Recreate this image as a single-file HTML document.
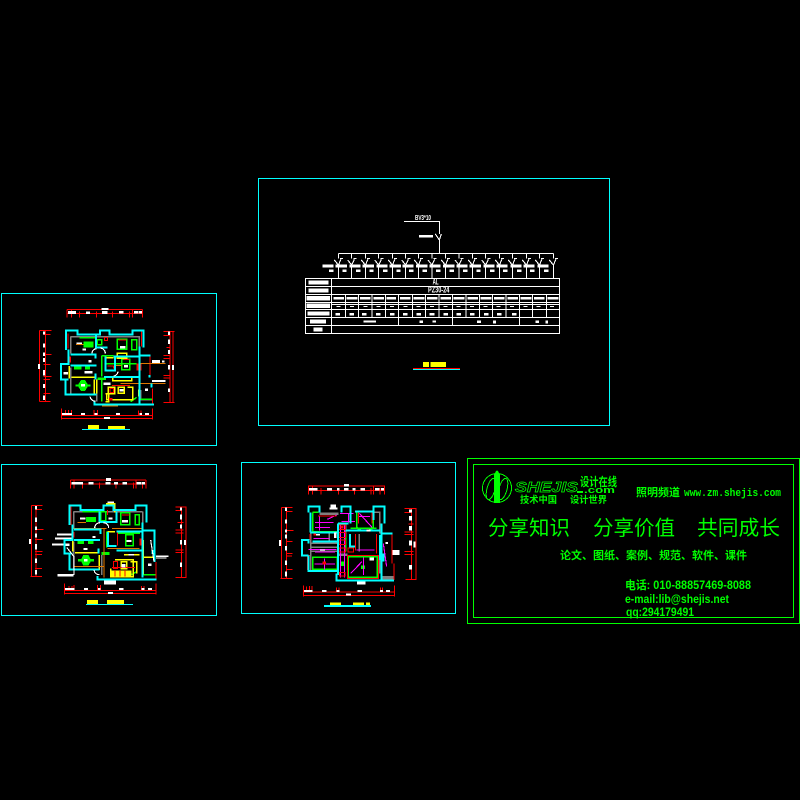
<!DOCTYPE html>
<html lang="zh"><head><meta charset="utf-8"><title>电气图纸</title>
<style>html,body{margin:0;padding:0;background:#000;width:800px;height:800px;overflow:hidden}svg{display:block}
.r{stroke:#f00;fill:none;stroke-width:3.4}.c{stroke:#0ff;fill:none;stroke-width:6}.g{stroke:#0f0;fill:none;stroke-width:4.5}.y{stroke:#ff0;fill:none;stroke-width:4.5}.a{stroke:#808080;fill:none;stroke-width:4.5}.o{stroke:#e07800;fill:none;stroke-width:3.4}.m{stroke:#f0f;fill:none;stroke-width:3.4}.w{stroke:#fff;fill:none;stroke-width:3.4}
text{font-family:"Liberation Sans","Noto Sans CJK SC",sans-serif;fill:#0f0}</style></head><body>
<svg width="800" height="800" viewBox="0 0 800 800" xmlns="http://www.w3.org/2000/svg" shape-rendering="crispEdges">
<rect width="800" height="800" fill="#000"/>
<!-- frames -->
<g fill="none" stroke="#0ff" stroke-width="1"><rect x="1.5" y="293.500" width="215" height="152"/><rect x="1.5" y="464.500" width="215" height="151"/><rect x="241.500" y="462.500" width="214" height="151"/><rect x="258.500" y="178.500" width="351" height="247"/></g>
<g fill="none" stroke="#0f0" stroke-width="1"><rect x="467.500" y="458.500" width="332" height="165"/><rect x="473.500" y="464.500" width="320" height="153"/></g>

<!-- panel 1 -->
<g transform="translate(0,290) scale(.33333)">
<path class="r" d="M201 58H428M201 70H428M201 58V83M214 58V83M238 65V83M290 65V83M338 65V83M388 65V83M397 58V83M428 58V83M118 121V334M136 121V334M118 121H155M130 133H152M130 193H155M130 224H152M130 259H155M130 268H150M130 310H152M118 334H152M510 125V337M519 125V337M490 124H524M490 136H510M499 172H510M490 196H510M490 205H510M490 256H510M490 264H510M490 337H524M184 355V388M457 355V388M184 376H457M184 386H457M197 360V376M205 360V376M215 360V376M282 360V376M292 360V376M415 362V376M423 362V376"/>
<g fill="#fff"><rect x="305" y="54" width="20" height="6"/><rect x="204" y="63" width="24" height="9"/><rect x="258" y="64" width="12" height="8"/><rect x="306" y="63" width="16" height="9"/><rect x="357" y="63" width="14" height="8"/><rect x="402" y="63" width="12" height="8"/><rect x="416" y="63" width="10" height="8"/><rect x="114" y="222" width="6" height="15"/><rect x="129" y="124" width="6" height="10"/><rect x="129" y="160" width="6" height="12"/><rect x="129" y="188" width="6" height="10"/><rect x="129" y="204" width="6" height="12"/><rect x="129" y="240" width="6" height="16"/><rect x="129" y="282" width="6" height="12"/><rect x="129" y="316" width="6" height="14"/><rect x="504" y="125" width="6" height="10"/><rect x="504" y="148" width="6" height="14"/><rect x="504" y="180" width="6" height="12"/><rect x="504" y="225" width="6" height="13"/><rect x="504" y="295" width="6" height="11"/><rect x="516" y="225" width="6" height="15"/><rect x="186" y="369" width="30" height="6"/><rect x="243" y="369" width="12" height="6"/><rect x="284" y="369" width="8" height="6"/><rect x="348" y="369" width="12" height="6"/><rect x="418" y="369" width="8" height="6"/><rect x="435" y="369" width="12" height="6"/><rect x="312" y="381" width="18" height="6"/></g>
<rect x="264" y="405" width="33" height="12" fill="#ff0"/><rect x="324" y="408" width="51" height="9" fill="#ff0"/><path d="M246 418.500H390" stroke="#0ff" stroke-width="3"/>
<path class="a" d="M212 140H420M212 140V190M212 232V310M418 140V172M290 270V335M422 300V330H456"/>
<path class="g" d="M238 143H285M352 148H380V178H352ZM396 150H410V180H396ZM366 208H390V240H366ZM305 198V260M305 270V335M305 198H340M320 222H410M350 262H418M420 328H456M392 335L410 322M292 150H305V165H292Z"/><path d="M250 155H280V172H250Z" fill="#0f0"/><path d="M222 228H244V238H222ZM255 228H270V238H255ZM292 262H318V270H292Z" fill="#0f0"/>
<path d="M235 283L243 270H255L263 283H272V290H263L255 303H243L235 290H226V283Z" fill="#0f0"/><rect x="243" y="282" width="12" height="7" fill="#fff"/>
<path class="y" d="M214 262H285M208 228V265M283 268V310M290 268V310M338 262H395V272H338ZM352 190H380V205H352ZM325 292H345V312H325ZM355 292H373V310H355ZM382 292H398V330H320V312M316 312H326V335H316M416 298V320M318 203H340"/>
<path class="r" d="M204 130V175M425 125V170M450 200V258M458 295V340M198 268V310M336 286H390M314 143H322V152H314ZM356 150H380M370 208H388M330 296H340V308H330ZM328 322V332M322 228H340V236"/><rect x="205" y="200" width="8" height="18" fill="#f00"/><rect x="410" y="220" width="14" height="22" fill="#f00"/><rect x="330" y="324" width="8" height="8" fill="#f00"/>
<path class="o" d="M415 220H497M420 280H497M228 163H250M362 280H418M345 226H365"/><path d="M306 347.500H354" stroke="#e07800" stroke-width="5"/><path d="M306 343H354" stroke="#ff0" stroke-width="3"/>
<path class="c" d="M198 180V121H233V133H300V121H328V133H397V121H431V172M233 121V133M205 178V222H183V268H205M196 268V314H290M284 334V344H462M418 170V340M418 197H452M212 193H290M212 226H290M288 135V172H322M340 200H418M316 200V242H345V200M312 261H418M286 190V205M286 250V268M448 255V262M455 280V292"/>
<g fill="#fff"><rect x="456" y="210" width="24" height="9"/><rect x="486" y="212" width="8" height="5"/><rect x="456" y="270" width="40" height="6"/><rect x="435" y="296" width="9" height="7"/><rect x="311" y="277" width="20" height="8"/><rect x="360" y="168" width="16" height="7"/><rect x="254" y="243" width="24" height="8"/><rect x="265" y="210" width="10" height="8"/><rect x="248" y="175" width="10" height="7"/><rect x="372" y="225" width="12" height="7"/><rect x="190" y="246" width="14" height="7"/><rect x="358" y="297" width="12" height="8"/><rect x="230" y="158" width="16" height="4"/></g>
<path class="w" d="M270 320a18 18 0 0 0 16 14M316 190a16 16 0 0 0-16-16M340 258a14 14 0 0 0 14-14M276 190a14 14 0 0 1 14-14"/>
</g>

<!-- panel 2 -->
<g transform="translate(0,460) scale(.33333)">
<path class="r" d="M211 60H438M211 72H438M211 60V86M222 62V86M247 68V86M299 68V86M348 68V86M400 68V86M408 60V86M428 68V86M438 60V86M95 136V349M108 136V349M95 136H128M108 148H126M105 209H130M105 239H128M105 274H128M105 283H126M105 325H126M92 349H126M544 140V352M558 140V352M526 141H560M526 152H544M532 187H550M526 210H550M526 219H550M526 270H550M526 278H550M526 352H560M193 370V404M468 370V404M193 391H468M193 401H468M207 378V391M216 378V391M222 375V391M292 375V391M301 375V391M424 378V391M432 378V391"/>
<g fill="#fff"><rect x="318" y="54" width="15" height="9"/><rect x="215" y="66" width="34" height="8"/><rect x="266" y="66" width="14" height="7"/><rect x="317" y="66" width="14" height="7"/><rect x="342" y="66" width="12" height="7"/><rect x="367" y="66" width="14" height="7"/><rect x="410" y="66" width="14" height="7"/><rect x="426" y="66" width="9" height="7"/><rect x="87" y="237" width="6" height="15"/><rect x="105" y="138" width="6" height="10"/><rect x="105" y="172" width="6" height="14"/><rect x="105" y="200" width="6" height="10"/><rect x="105" y="220" width="6" height="12"/><rect x="105" y="252" width="6" height="16"/><rect x="105" y="296" width="6" height="13"/><rect x="105" y="330" width="6" height="14"/><rect x="540" y="142" width="6" height="10"/><rect x="540" y="164" width="6" height="14"/><rect x="540" y="194" width="6" height="12"/><rect x="540" y="240" width="6" height="14"/><rect x="540" y="308" width="6" height="13"/><rect x="552" y="240" width="6" height="15"/><rect x="195" y="384" width="28" height="6"/><rect x="252" y="384" width="12" height="6"/><rect x="294" y="384" width="8" height="6"/><rect x="357" y="384" width="14" height="6"/><rect x="424" y="384" width="9" height="6"/><rect x="444" y="384" width="12" height="6"/><rect x="324" y="396" width="15" height="6"/><rect x="171" y="220" width="44" height="7"/><rect x="165" y="232" width="50" height="6"/><rect x="156" y="250" width="40" height="6"/><rect x="172" y="342" width="48" height="8"/><rect x="468" y="286" width="38" height="5"/><rect x="468" y="292" width="32" height="4"/><rect x="312" y="360" width="36" height="14"/><rect x="322" y="124" width="20" height="6"/></g>
<rect x="261" y="420" width="33" height="12" fill="#ff0"/><rect x="321" y="420" width="51" height="12" fill="#ff0"/><path d="M258 433.500H399" stroke="#0ff" stroke-width="3"/>
<path class="a" d="M221 155V205M221 245V325M428 155V190M306 285V345M221 155H428"/>
<path class="g" d="M248 155H295M362 158H390V194H362ZM406 165H418V194H406ZM378 224H400V258H378ZM320 215V262M352 220H420M430 344H466M392 345L410 335M302 156H318V183H302Z"/><path d="M258 171H288V186H258ZM232 243H252V252H232ZM264 243H280V252H264ZM304 276H328V285H304Z" fill="#0f0"/>
<path d="M244 297L250 285H265L272 297H282V305H272L265 317H250L244 305H234V297Z" fill="#0f0"/><rect x="252" y="297" width="11" height="7" fill="#fff"/>
<path class="y" d="M225 278H295M218 240V275M298 285V330M345 300H400V350H332V326M364 306H380V326H364ZM392 306H410V340M322 215H345M430 240V344M318 132H345V158M372 284H418M460 292H432"/><path d="M332 332H394V350H332Z" fill="#ff0"/>
<path class="r" d="M213 140V195M438 138V186M462 216V292M468 306V356M193 280H210M340 305H352V325H340ZM336 322H405M345 330V350M360 330V350M375 330V350M366 165H388M352 218V256M322 150V165"/><rect x="215" y="216" width="8" height="16" fill="#f00"/><rect x="418" y="236" width="12" height="20" fill="#f00"/>
<path class="o" d="M220 205H320M312 205V352M322 266H418M220 320H310M336 205H426M232 188H258"/>
<path class="c" d="M208 195V136H242V150H310V136H340V150H406V136H440V187M217 193V240H193V280H217M208 280V328H298M292 348V358H470M428 188V352M428 212H464V306M222 208H302M222 240H300M298 155V186H350V155M324 216V258H350M350 214H428M350 272H428M302 205V222M295 265V280M457 270V282"/>
<g fill="#fff"><rect x="240" y="172" width="16" height="6"/><rect x="366" y="180" width="18" height="7"/><rect x="325" y="172" width="12" height="6"/><rect x="380" y="240" width="14" height="6"/><rect x="365" y="312" width="12" height="10"/><rect x="250" y="264" width="12" height="6"/><rect x="278" y="228" width="8" height="6"/><rect x="196" y="250" width="12" height="8"/><rect x="444" y="310" width="10" height="8"/><rect x="386" y="282" width="16" height="5"/></g>
<path class="w" d="M452 240L462 305M282 330a16 16 0 0 0 16 14M284 204a16 16 0 0 1 16-16M326 204a16 16 0 0 0-16-16M200 262L222 290V345"/>
</g>

<!-- panel 3 -->
<g transform="translate(240,460) scale(.33333)">
<path class="r" d="M205 78H435M205 91H435M205 76V104M217 78V104M243 84V104M295 84V104M343 84V104M393 84V104M401 78V104M420 84V104M433 78V104M124 142V355M139 142V355M124 142H158M139 154H158M139 212H160M139 245H158M139 280H158M139 288H156M139 328H158M121 355H158M514 145V358M528 145V358M494 146H530M494 157H514M505 192H520M494 216H520M494 224H520M494 275H520M494 283H520M496 358H530M190 376V410M463 376V410M190 396H463M190 406H463M200 380V396M208 378V396M216 378V396M290 382V396M297 382V396M422 382V396M428 382V396"/>
<g fill="#fff"><rect x="312" y="72" width="15" height="7"/><rect x="207" y="84" width="26" height="8"/><rect x="261" y="84" width="15" height="7"/><rect x="291" y="84" width="8" height="7"/><rect x="312" y="84" width="13" height="7"/><rect x="338" y="84" width="9" height="7"/><rect x="362" y="84" width="13" height="7"/><rect x="405" y="84" width="13" height="7"/><rect x="423" y="84" width="9" height="7"/><rect x="117" y="240" width="6" height="18"/><rect x="135" y="142" width="6" height="11"/><rect x="135" y="178" width="6" height="13"/><rect x="135" y="208" width="6" height="10"/><rect x="135" y="224" width="6" height="12"/><rect x="135" y="258" width="6" height="14"/><rect x="135" y="302" width="6" height="13"/><rect x="135" y="335" width="6" height="14"/><rect x="507" y="148" width="9" height="10"/><rect x="507" y="168" width="9" height="14"/><rect x="507" y="198" width="9" height="14"/><rect x="507" y="242" width="9" height="14"/><rect x="507" y="315" width="9" height="13"/><rect x="520" y="244" width="7" height="18"/><rect x="192" y="390" width="26" height="6"/><rect x="246" y="390" width="14" height="6"/><rect x="290" y="390" width="8" height="6"/><rect x="352" y="390" width="14" height="6"/><rect x="420" y="390" width="9" height="6"/><rect x="438" y="390" width="12" height="6"/><rect x="318" y="400" width="15" height="7"/><rect x="272" y="134" width="16" height="12"/><rect x="268" y="142" width="24" height="6"/><rect x="351" y="362" width="25" height="12"/><rect x="458" y="270" width="20" height="15"/></g>
<rect x="270" y="427" width="33" height="9" fill="#ff0"/><rect x="339" y="427" width="33" height="9" fill="#ff0"/><rect x="378" y="427" width="12" height="9" fill="#ff0"/><path d="M252 436.500H393M252 439.500H393" stroke="#0ff" stroke-width="3"/>
<path d="M296 280H322V288H296ZM238 157H296V165H238ZM426 348H460V358H426Z" fill="#808080"/>
<path class="a" d="M212 215V330M268 218V244M212 250H296M212 262H296M212 274H296M420 157V220M420 280V340M318 190V275M358 222V275M404 157H422"/>
<path class="g" d="M218 157V215H292M218 157H236M218 292H292V328H218ZM325 290H412V352H325ZM350 157V200C355 216 395 216 400 200V157M332 205H410M318 222V275M330 250V262"/><rect x="300" y="304" width="15" height="14" fill="#0f0"/><rect x="363" y="316" width="12" height="11" fill="#0f0"/>
<path class="m" d="M225 188H280M225 202H270M238 170V212M300 160H340M305 185H345M326 160V188M302 190V352M313 190V352M205 268H290M225 276H285M224 312H285M253 296V328M370 292V345M332 340L366 305M430 250L440 320M350 270H404M262 178L290 165M358 160L396 202M220 236H268M355 170H390"/>
<path class="r" d="M210 160V215M434 142V190M456 220V310M462 310V360M202 288V330M234 168H290M322 286H416V355H322ZM297 195H316V208H297ZM297 218H316V232H297ZM297 240H316V254H297ZM297 264H316V276H297ZM324 264H340V276H324ZM298 338H315V348H298ZM355 157V190M396 157V190M410 222V280M346 222V272M210 222V240M186 286H210"/><rect x="220" y="217" width="8" height="10" fill="#f00"/><rect x="248" y="304" width="10" height="10" fill="#f00"/><rect x="302" y="198" width="9" height="7" fill="#f00"/>
<path class="c" d="M205 157V139H238V157M304 157V139H332V157M400 157V139H434V190M212 157V218M212 218H296M206 250V240H186V286H206M206 286V333H296M290 340V361H462M424 190V360M424 220H458M294 190H325M294 190V345M218 244H296M318 212H420M332 155V190M345 155H400V180M330 222V260H345M420 225V300M430 280V305"/>
<g fill="#fff"><rect x="388" y="292" width="14" height="10"/><rect x="436" y="246" width="8" height="6"/><rect x="240" y="268" width="15" height="4"/><rect x="282" y="218" width="8" height="16"/><rect x="228" y="222" width="12" height="5"/><rect x="380" y="208" width="12" height="6"/></g>
</g>

<!-- electrical schematic -->
<defs>
<g id="br"><path class="w" d="M0 0V16M0 35V75M-12 20L0 35M0 35L8 18M5 16L14 16"/><rect x="-48" y="33" width="34" height="9" fill="#fff"/><rect x="-28" y="48" width="13" height="8" fill="#fff"/></g>
</defs>
<g transform="translate(300,210) scale(.33333)">
<path class="w" d="M312 34H418V72M418 90V130M406 72L418 90M418 90L424 72M115 130H760"/><rect x="357" y="75" width="42" height="8" fill="#fff"/>
<text x="345" y="30" font-size="21" font-weight="bold" style="fill:#fff" textLength="48" lengthAdjust="spacingAndGlyphs">BV3*10</text>
<use href="#br" x="115" y="130"/><use href="#br" x="155" y="130"/><use href="#br" x="196" y="130"/><use href="#br" x="236" y="130"/><use href="#br" x="277" y="130"/><use href="#br" x="317" y="130"/><use href="#br" x="355" y="130"/><use href="#br" x="396" y="130"/><use href="#br" x="436" y="130"/><use href="#br" x="477" y="130"/><use href="#br" x="517" y="130"/><use href="#br" x="557" y="130"/><use href="#br" x="598" y="130"/><use href="#br" x="637" y="130"/><use href="#br" x="679" y="130"/><use href="#br" x="718" y="130"/><use href="#br" x="760" y="130"/>
<path class="w" d="M16 205H779V371H16ZM95 205V371M16 229H779M16 253H779M16 277H779M16 298H779M16 322H779M16 347H779M136 253V322M176 253V322M216 253V322M256 253V322M296 253V347M337 253V322M377 253V322M417 253V322M457 253V347M498 253V322M538 253V322M578 253V322M618 253V322M658 253V347M698 253V322M739 253V322"/>
<g fill="#fff"><rect x="25" y="211" width="60" height="13"/><rect x="25" y="235" width="60" height="13"/><rect x="20" y="258" width="70" height="14"/><rect x="20" y="281" width="70" height="13"/><rect x="22" y="304" width="66" height="13"/><rect x="30" y="328" width="48" height="13"/><rect x="40" y="352" width="27" height="13"/>
<rect x="100" y="261" width="32" height="8"/><rect x="140" y="261" width="32" height="8"/><rect x="180" y="261" width="32" height="8"/><rect x="220" y="261" width="32" height="8"/><rect x="260" y="261" width="28" height="8"/><rect x="300" y="261" width="32" height="8"/><rect x="341" y="261" width="32" height="8"/><rect x="381" y="261" width="32" height="8"/><rect x="421" y="261" width="32" height="8"/><rect x="461" y="261" width="32" height="8"/><rect x="502" y="261" width="32" height="8"/><rect x="542" y="261" width="32" height="8"/><rect x="582" y="261" width="32" height="8"/><rect x="622" y="261" width="32" height="8"/><rect x="662" y="261" width="32" height="8"/><rect x="702" y="261" width="32" height="8"/><rect x="743" y="261" width="32" height="8"/>
<rect x="106" y="309" width="14" height="8"/><rect x="148" y="309" width="14" height="8"/><rect x="186" y="309" width="14" height="8"/><rect x="228" y="309" width="14" height="8"/><rect x="270" y="309" width="14" height="8"/><rect x="309" y="309" width="14" height="8"/><rect x="349" y="309" width="14" height="8"/><rect x="388" y="309" width="16" height="8"/><rect x="430" y="309" width="14" height="8"/><rect x="469" y="309" width="14" height="8"/><rect x="510" y="309" width="14" height="8"/><rect x="552" y="309" width="14" height="8"/><rect x="591" y="309" width="14" height="8"/><rect x="636" y="309" width="14" height="8"/>
<rect x="190" y="331" width="38" height="7"/><rect x="358" y="331" width="11" height="8"/><rect x="397" y="331" width="11" height="7"/><rect x="531" y="331" width="12" height="8"/><rect x="579" y="331" width="9" height="10"/><rect x="706" y="331" width="11" height="8"/><rect x="736" y="331" width="8" height="10"/></g>
<path d="M96 284H778" stroke="#fff" stroke-width="3"/><path stroke="#fff" stroke-width="3" stroke-dasharray="12 28" d="M110 290H778"/>
<text x="398" y="224" font-size="24" font-weight="bold" style="fill:#fff" textLength="18" lengthAdjust="spacingAndGlyphs">AL</text>
<text x="384" y="248" font-size="24" font-weight="bold" style="fill:#fff" textLength="64" lengthAdjust="spacingAndGlyphs">PZ30-24</text>
<rect x="369" y="456" width="18" height="15" fill="#ff0"/><rect x="391" y="456" width="47" height="15" fill="#ff0"/>
<path d="M339 475H480" stroke="#f00" stroke-width="3"/><path d="M339 478.500H480" stroke="#0ff" stroke-width="3"/>
</g>

<!-- logo panel -->
<g fill="none" stroke="#0f0" stroke-width="1"><circle cx="497" cy="488" r="14.500"/><ellipse cx="491" cy="489" rx="4" ry="11" transform="rotate(15 491 489)"/><ellipse cx="503" cy="489" rx="4" ry="11" transform="rotate(15 503 489)"/></g>
<path d="M494 503V474L497 470L500 474V503Z" fill="#0f0"/>
<text x="515" y="492" font-size="15" font-weight="bold" font-style="italic" style="fill:none;stroke:#0f0;stroke-width:.7" textLength="63" lengthAdjust="spacingAndGlyphs">SHEJIS</text>
<text x="580" y="486" font-size="12" font-weight="bold" textLength="37" lengthAdjust="spacingAndGlyphs">设计在线</text>
<rect x="577" y="491" width="6" height="2" fill="#0f0"/>
<text x="584" y="493" font-size="9" font-weight="bold" textLength="31" lengthAdjust="spacingAndGlyphs">.com</text>
<text x="520" y="503" font-size="9.500" font-weight="bold" textLength="37" lengthAdjust="spacingAndGlyphs">技术中国</text>
<text x="570" y="503" font-size="9.500" font-weight="bold" textLength="37" lengthAdjust="spacingAndGlyphs">设计世界</text>
<text x="636" y="496" font-size="11" font-weight="bold" textLength="44" lengthAdjust="spacingAndGlyphs">照明频道</text>
<text x="684" y="496" font-size="11" font-weight="bold" textLength="97" lengthAdjust="spacingAndGlyphs" style="font-family:'Liberation Mono',monospace">www.zm.shejis.com</text>
<text x="488" y="535" font-size="20.500" textLength="82" lengthAdjust="spacingAndGlyphs">分享知识</text>
<text x="593" y="535" font-size="20.500" textLength="82" lengthAdjust="spacingAndGlyphs">分享价值</text>
<text x="697" y="535" font-size="20.500" textLength="83" lengthAdjust="spacingAndGlyphs">共同成长</text>
<text x="560" y="559" font-size="11" font-weight="bold" textLength="187" lengthAdjust="spacingAndGlyphs">论文、图纸、案例、规范、软件、课件</text>
<text x="625" y="589" font-size="11.500" font-weight="bold" textLength="126" lengthAdjust="spacingAndGlyphs">电话: 010-88857469-8088</text>
<text x="625" y="603" font-size="12" font-weight="bold" textLength="104" lengthAdjust="spacingAndGlyphs">e-mail:lib@shejis.net</text>
<text x="626" y="616" font-size="12" font-weight="bold" textLength="68" lengthAdjust="spacingAndGlyphs">qq:294179491</text>
</svg>
</body></html>
